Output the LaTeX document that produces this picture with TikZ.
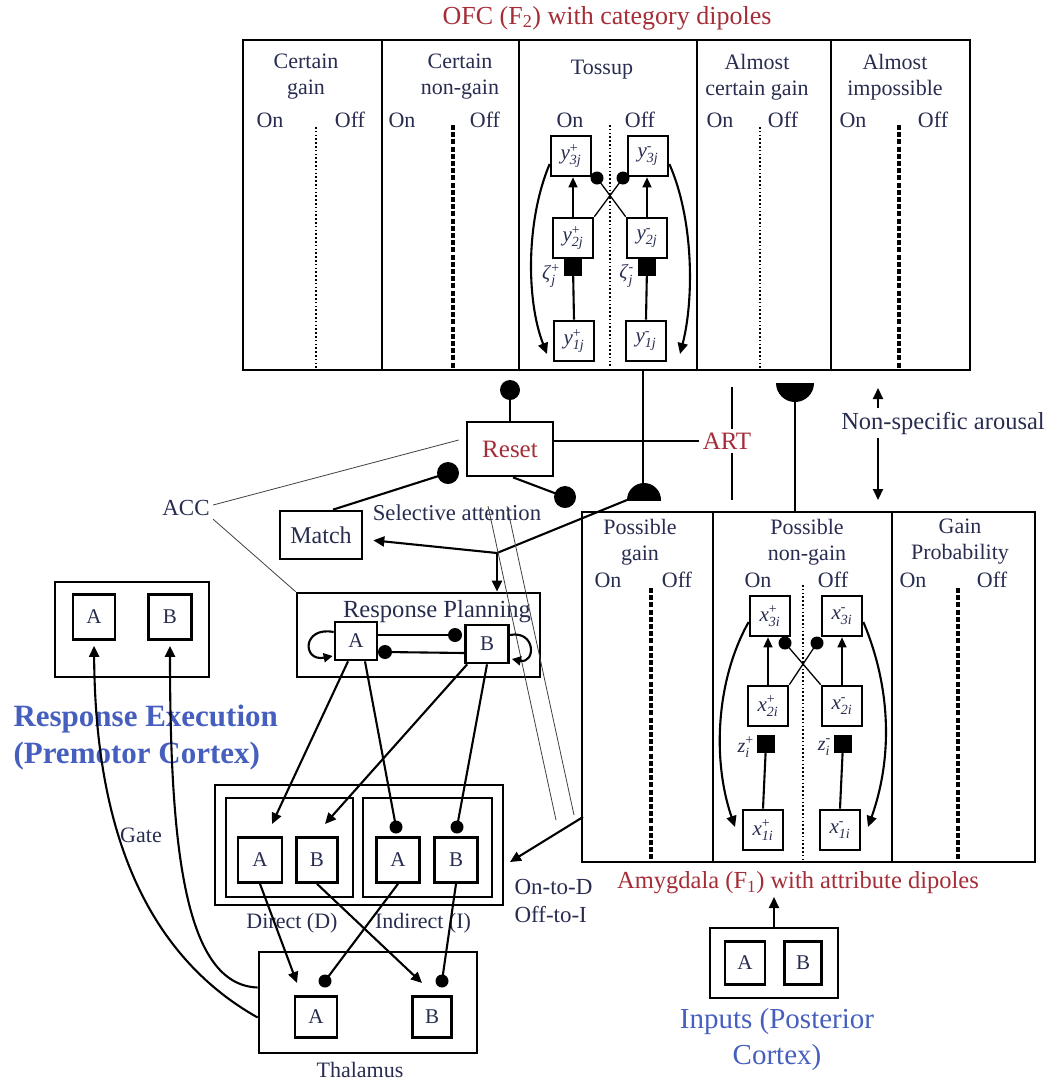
\documentclass[tikz,border=0pt]{standalone}
\usepackage{fontspec}
\setmainfont{Liberation Serif}
\usetikzlibrary{arrows.meta,calc}
\definecolor{txt}{RGB}{40,45,80}
\definecolor{dred}{RGB}{165,45,55}
\definecolor{dblue}{RGB}{70,95,190}
\newcommand\fs[2]{\fontsize{#1bp}{#2bp}\selectfont}
\newcommand\dip[3]{\textit{#1}$_{\mbox{\fs{14}{14}\itshape #2}}^{\mbox{\fs{14}{14}#3}}$}
\begin{document}
\begin{tikzpicture}[x=1bp,y=-1bp,
  every node/.style={text=txt, font=\fs{22}{27}},
  frame/.style={draw, line width=2.7bp},
  cell/.style={draw, line width=2.7bp, fill=white, minimum width=40bp, minimum height=40bp, inner sep=0pt, font=\fs{21}{21}},
  gsq/.style={fill, minimum width=18bp, minimum height=18bp, inner sep=0pt},
  wire/.style={line width=2.1bp},
  thinw/.style={line width=1.3bp},
  hair/.style={line width=0.8bp, draw=black!75},
  arr/.style={wire, -{Triangle[length=11bp,width=10bp]}},
  sarr/.style={thinw, -{Triangle[length=10bp,width=9bp]}},
  dotdiv/.style={line width=2.2bp, dash pattern=on 1.6bp off 2.2bp},
  dashdiv/.style={line width=3.2bp, dash pattern=on 5bp off 2.2bp},
  hd/.style={align=center, font=\fs{22}{26}},
  zlab/.style={font=\fs{20}{20}, inner sep=1bp, anchor=east},
]
\useasboundingbox (0,0) rectangle (1053,1083);

% ---------------- OFC ----------------
\node[text=dred, font=\fs{26}{30}] (ofct) at (607,18) {OFC (F\textsubscript{2}) with category dipoles};
\draw[frame] (243,40) rectangle (970,370);
\foreach \x in {382,519,697,831} \draw[frame] (\x,40) -- (\x,370);
\node[hd] (h1) at (306,77) {Certain\\gain};
\node[hd] (h2) at (460,77) {Certain\\non-gain};
\node[hd] (h3) at (602,70) {Tossup};
\node[hd] (h4) at (757,77) {Almost\\certain gain};
\node[hd] (h5) at (895,77) {Almost\\impossible};
\foreach \n/\x in {on1/270, on2/402, on3/570, on4/720, on5/853} \node (\n) at (\x,120) {On};
\foreach \n/\x in {off1/350, off2/485, off3/640, off4/783, off5/933} \node (\n) at (\x,120) {Off};
\draw[dotdiv] (316,127) -- (316,368);
\draw[dashdiv] (453,125) -- (453,368);
\draw[dotdiv] (610,125) -- (610,368);
\draw[dotdiv] (760,127) -- (760,368);
\draw[dashdiv] (899,125) -- (899,368);

% Tossup dipole
\node[cell] (y3p) at (571,156) {\dip{y}{3j}{+}};
\node[cell] (y3m) at (648,156) {\dip{y}{3j}{-}};
\node[cell] (y2p) at (573,238) {\dip{y}{2j}{+}};
\node[cell] (y2m) at (647,238) {\dip{y}{2j}{-}};
\node[cell] (y1p) at (574,341) {\dip{y}{1j}{+}};
\node[cell] (y1m) at (646,341) {\dip{y}{1j}{-}};
\node[gsq] (g1) at (573,267) {};
\node[gsq] (g2) at (647,267) {};
\draw[wire] (g1) -- (y1p.north);
\draw[wire] (g2) -- (y1m.north);
\draw[sarr] (y2p.north) -- (y2p.north |- y3p.south);
\draw[sarr] (y2m.north) -- (y2m.north |- y3m.south);
\coordinate (cc1) at (597,178);
\coordinate (cc2) at (623,178);
\draw[thinw] (y2p.north east) -- (cc2);
\draw[thinw] (y2m.north west) -- (cc1);
\fill (cc1) circle (6.5);
\fill (cc2) circle (6.5);
\draw[arr] ([yshift=-8bp]y3p.west) .. controls (526,220) and (526,300) .. (547,354);
\draw[arr] ([yshift=-8bp]y3m.east) .. controls (694,220) and (694,300) .. (680,354);
\node[zlab] (zp) at (561,276) {\dip{ζ}{j}{+}};
\node[zlab] (zm) at (635,276) {\dip{ζ}{j}{-}};

% ---------------- Amygdala ----------------
\draw[frame] (582,512) rectangle (1035,862);
\foreach \x in {713,892} \draw[frame] (\x,512) -- (\x,862);
\node[hd] (a1) at (640,542) {Possible\\gain};
\node[hd] (a2) at (807,542) {Possible\\non-gain};
\node[hd] (a3) at (960,542) {Gain\\Probability};
\foreach \n/\x in {aon1/608, aon2/758, aon3/913} \node (\n) at (\x,580) {On};
\foreach \n/\x in {aoff1/677, aoff2/833, aoff3/992} \node (\n) at (\x,580) {Off};
\draw[dashdiv] (651,588) -- (651,860);
\draw[dotdiv] (803,585) -- (803,860);
\draw[dashdiv] (958,588) -- (958,860);

\node[cell] (x3p) at (770,616) {\dip{x}{3i}{+}};
\node[cell] (x3m) at (842,616) {\dip{x}{3i}{-}};
\node[cell] (x2p) at (768,706) {\dip{x}{2i}{+}};
\node[cell] (x2m) at (842,706) {\dip{x}{2i}{-}};
\node[cell] (x1p) at (763,830) {\dip{x}{1i}{+}};
\node[cell] (x1m) at (840,830) {\dip{x}{1i}{-}};
\node[gsq] (g3) at (766,744) {};
\node[gsq] (g4) at (843,744) {};
\draw[wire] (g3) -- (x1p.north);
\draw[wire] (g4) -- (x1m.north);
\draw[sarr] (x2p.north) -- (x2p.north |- x3p.south);
\draw[sarr] (x2m.north) -- (x2m.north |- x3m.south);
\coordinate (cc3) at (785,643);
\coordinate (cc4) at (817,643);
\draw[thinw] (x2p.north east) -- (cc4);
\draw[thinw] (x2m.north west) -- (cc3);
\fill (cc3) circle (6.5);
\fill (cc4) circle (6.5);
\draw[arr] ([yshift=-6bp]x3p.west) .. controls (716,680) and (712,760) .. (735,827);
\draw[arr] ([yshift=-6bp]x3m.east) .. controls (892,690) and (892,760) .. (868,827);
\node[zlab] (zip) at (755,747) {\dip{z}{i}{+}};
\node[zlab] (zim) at (832,747) {\dip{z}{i}{-}};

\node[text=dred, font=\fs{24.5}{25}] (amyt) at (798,883) {Amygdala (F\textsubscript{1}) with attribute dipoles};

% Inputs
\node[frame, minimum width=128bp, minimum height=70bp] (inp) at (774,963) {};
\node[cell, minimum width=40bp, minimum height=43bp] (inA) at (745,963) {A};
\node[cell, minimum width=37bp, minimum height=43bp] (inB) at (803,963) {B};
\coordinate (amtip) at (774,897);
\draw[arr] (inp.north) -- (amtip);
\node[text=dblue, font=\fs{29}{36}, align=center] (inl) at (777,1040) {Inputs (Posterior\\Cortex)};

% ---------------- Middle: Reset, ART, Match ----------------
\node[frame, minimum width=86bp, minimum height=54bp, text=dred, font=\fs{25}{25}] (reset) at (510,449) {Reset};
\coordinate (rc0) at (510,390);
\draw[wire] (reset.north) -- (rc0);
\fill (rc0) circle (10);
\coordinate (rc1) at (565,497);
\draw[wire] ([xshift=3bp]reset.south) -- (rc1);
\fill (rc1) circle (11);

\node[frame, minimum width=82bp, minimum height=48bp, font=\fs{24}{24}] (match) at (321,535) {Match};
\coordinate (mc) at (448,473);
\draw[wire] ([xshift=12bp]match.north) -- (mc);
\fill (mc) circle (11);

\node[text=dred, font=\fs{25}{25}] (art) at (727,441) {ART};
\draw[thinw] (reset.east |- art.west) -- (art.west);
\coordinate (artt) at (732,387);
\coordinate (artb) at (732,500);
\draw[thinw] (artt) -- (artt |- art.north);
\draw[thinw] (artb |- art.south) -- (artb);

% OFC -> semicircle (selective attention)
\coordinate (ofcb1) at (643,370);
\coordinate (s1) at (644,500);
\coordinate (s1l) at (627,500);
\draw[wire] (ofcb1) -- (643,486);
\begin{scope}
  \clip (620,478) rectangle (670,500);
  \fill (s1) circle (17);
\end{scope}
\coordinate (jn) at (497,553);
\draw[wire] (s1l) -- (jn);

% Amygdala -> semicircle on OFC
\coordinate (s2) at (795,383);
\coordinate (amtop) at (795,512);
\begin{scope}
  \clip (770,383) rectangle (820,410);
  \fill (s2) circle (19);
\end{scope}
\draw[line width=2.6bp] (795,400) -- (amtop);

% Non-specific arousal
\node[font=\fs{24.5}{25}] (nsa) at (943,423) {Non-specific arousal};
\coordinate (ar1) at (878,388);
\coordinate (ar2) at (878,500);
\draw[arr] (ar1 |- nsa.north) -- (ar1);
\draw[arr] (ar2 |- nsa.south) -- (ar2);

% ACC and selective attention
\node[font=\fs{23}{23}] (acc) at (186,508) {ACC};
\node[font=\fs{22.7}{23}] (sel) at (457,513) {Selective attention};

% ---------------- Response planning ----------------
\node[frame, minimum width=243bp, minimum height=84bp] (rp) at (418.5,635) {};
\node[font=\fs{24.6}{25}] (rpl) at (437,612) {Response Planning};
\node[cell, minimum width=42bp, minimum height=38bp] (rpA) at (356,641) {A};
\node[cell, minimum width=43bp, minimum height=38bp] (rpB) at (487,644) {B};
\draw[arr] (jn) -- (jn |- rp.north);
\draw[arr, shorten >=10bp] (jn) -- (match);
\draw[hair] ($(reset.west)+(-7,-9)$) -- ($(acc.east)+(0,-3)$);
\draw[hair] (acc.south east) -- (rp.north west);
\draw[hair] (488,506) -- (556,820);
\draw[hair] (507,506) -- (574,815);

\coordinate (ci1) at (455,635);
\coordinate (ci2) at (385,652);
\draw[wire] ($(rpA.east)+(0,-6)$) -- (ci1);
\draw[wire] ($(rpB.west)+(0,9)$) -- (ci2);
\fill (ci1) circle (7);
\fill (ci2) circle (7);
\draw[wire, -{Triangle[length=9bp,width=9bp]}] ($(rpA.west)+(0,-9)$) .. controls (302,626) and (302,662) .. ($(rpA.west)+(-1,15)$);
\draw[wire, -{Triangle[length=9bp,width=9bp]}] ($(rpB.east)+(0,-9)$) .. controls (536,630) and (536,664) .. ($(rpB.east)+(2,15)$);

% ---------------- Basal ganglia ----------------
\node[frame, minimum width=288bp, minimum height=120bp] (bg) at (359,845) {};
\node[frame, minimum width=127bp, minimum height=99bp] (bgD) at (289.5,847.5) {};
\node[frame, minimum width=129bp, minimum height=99bp] (bgI) at (427.5,847.5) {};
\node[cell, minimum width=44bp, minimum height=45bp] (dA) at (260,860) {A};
\node[cell, minimum width=41bp, minimum height=45bp] (dB) at (317,860) {B};
\node[cell, minimum width=43bp, minimum height=45bp] (iA) at (398,860) {A};
\node[cell, minimum width=43bp, minimum height=45bp] (iB) at (456,860) {B};
\node (dl) at (292,923) {Direct (D)};
\node (il) at (423,923) {Indirect (I)};

\coordinate (tdA) at (272,824);
\coordinate (tdB) at (325,824);
\coordinate (ciA) at (396,827);
\coordinate (ciB) at (457,827);
\draw[arr] ($(rpA.south)+(-8,0)$) -- (tdA);
\draw[wire] ($(rpA.south)+(9,0)$) -- (ciA);
\draw[arr] ($(rpB.south west)+(3,0)$) -- (tdB);
\draw[wire] (rpB.south) -- (ciB);
\fill (ciA) circle (6.5);
\fill (ciB) circle (6.5);

\coordinate (amL) at (583,817);
\coordinate (bgR) at (510,862);
\draw[arr] (amL) -- (bgR);
\node[align=left, anchor=west, font=\fs{23}{28}] (otd) at (511,901) {On-to-D\\Off-to-I};

% ---------------- Thalamus ----------------
\node[frame, minimum width=218bp, minimum height=101bp] (thal) at (368,1002.5) {};
\node[cell, minimum width=42bp, minimum height=41bp] (tA) at (316,1017) {A};
\node[cell, minimum width=39bp, minimum height=41bp] (tB) at (432,1017) {B};
\node (thl) at (360,1070) {Thalamus};
\coordinate (ttA) at (297,983);
\coordinate (ttB) at (422,983);
\coordinate (tcA) at (325,981);
\coordinate (tcB) at (442,981);
\draw[arr] (dA.south) -- (ttA);
\draw[arr] (dB.south) -- (ttB);
\draw[wire] (iA.south) -- (tcA);
\draw[wire] (iB.south) -- (tcB);
\fill (tcA) circle (6.5);
\fill (tcB) circle (6.5);

% ---------------- Response execution ----------------
\node[frame, minimum width=154bp, minimum height=95bp] (re) at (132,629.5) {};
\node[cell, minimum width=42bp, minimum height=45bp] (reA) at (94,617) {A};
\node[cell, minimum width=43bp, minimum height=45bp] (reB) at (170,617) {B};
\node[text=dblue, font=\bfseries\fs{31}{37}, align=left, anchor=west] (rel) at (10,738) {Response Execution\\(Premotor Cortex)};
\node (gate) at (141,835) {Gate};
\draw[arr, shorten >=5bp] ($(thal.west)+(0,15)$) .. controls (120,940) and (95,780) .. (reA.south);
\draw[arr, shorten >=5bp] ($(thal.west)+(0,-15)$) .. controls (185,985) and (170,850) .. (reB.south);

\end{tikzpicture}
\end{document}
